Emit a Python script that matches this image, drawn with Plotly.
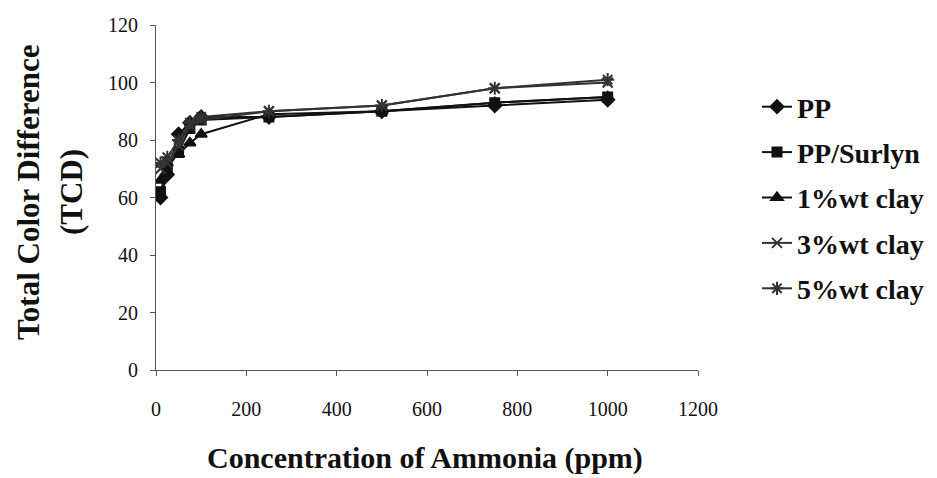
import plotly.graph_objects as go

conc = [10, 25, 50, 75, 100, 250, 500, 750, 1000]
series_names = ["PP", "PP/Surlyn", "1%wt clay", "3%wt clay", "5%wt clay"]
pp = [60, 68, 82, 86, 88, 88, 90, 92, 94]
pp_surlyn = [62, 70, 76, 84, 87, 88, 90, 93, 95]
clay1 = [66, 72, 75, 79, 82, 89, 90, 93, 95]
clay3 = [70, 72, 78, 85, 87, 90, 92, 98, 100]
clay5 = [72, 74, 80, 86, 88, 90, 92, 98, 101]
x_ticks = [0, 200, 400, 600, 800, 1000, 1200]
y_ticks = [0, 20, 40, 60, 80, 100, 120]

values = [pp, pp_surlyn, clay1, clay3, clay5]
symbols = ["diamond", "square", "triangle-up", "x-thin-open", "asterisk-open"]
sizes = [10, 9, 10, 10, 11]
colors = ["#111111", "#111111", "#111111", "#333333", "#333333"]

FONT = "Liberation Serif, Times New Roman, serif"

fig = go.Figure()
for i, (name, vals) in enumerate(zip(series_names, values)):
    fig.add_trace(go.Scatter(
        x=conc, y=vals, name=name, mode="lines+markers",
        legendgroup=f"g{i}",
        line=dict(color=colors[i], width=2),
        marker=dict(symbol=symbols[i], size=sizes[i], color=colors[i],
                    line=dict(color=colors[i], width=2)),
    ))

# page body has an 8px offset; compensate so the plot lands where the reference has it
OFF = 8
W, H = 937 - OFF, 478 - OFF
L, T = 156 - OFF, 25 - OFF
R = 937 - 698          # plot right edge at screen x=698
B = 478 - 370          # plot bottom at screen y=370 (fig y=362)
pw, ph = W - L - R, H - T - B

def px_x(p):
    return (p - OFF - L) / pw

def px_y(p):
    return (H - B - (p - OFF)) / ph

fig.update_layout(
    width=W, height=H,
    margin=dict(l=L, r=R, t=T, b=B, autoexpand=False),
    paper_bgcolor="white", plot_bgcolor="white",
    font=dict(family=FONT, color="#111111"),
    showlegend=True,
    legend=dict(
        x=px_x(757), y=px_y(82), xanchor="left", yanchor="top",
        font=dict(family=FONT, size=28, color="#111111", weight="bold"),
        traceorder="grouped", tracegroupgap=6,
        bgcolor="rgba(0,0,0,0)",
    ),
    xaxis=dict(
        range=[0, 1200], tickvals=x_ticks, ticktext=[str(v) for v in x_ticks],
        showgrid=False, zeroline=False, showline=True, linecolor="#555555",
        linewidth=1, ticks="outside", ticklen=5, tickcolor="#555555",
        tickfont=dict(family=FONT, size=20, color="#111111"),
        ticklabelstandoff=16,
        automargin=False,
    ),
    yaxis=dict(
        range=[0, 120], tickvals=y_ticks, ticktext=[str(v) for v in y_ticks],
        showgrid=False, zeroline=False, showline=True, linecolor="#555555",
        linewidth=1, ticks="outside", ticklen=5, tickcolor="#555555",
        tickfont=dict(family=FONT, size=20, color="#111111"),
        ticklabelstandoff=8,
        automargin=False,
    ),
    annotations=[
        dict(text="Total Color Difference", textangle=-90,
             xref="paper", yref="paper", x=px_x(28), y=px_y(192),
             xanchor="center", yanchor="middle", showarrow=False,
             font=dict(family=FONT, size=31, color="#111111", weight="bold")),
        dict(text="(TCD)", textangle=-90,
             xref="paper", yref="paper", x=px_x(71), y=px_y(192),
             xanchor="center", yanchor="middle", showarrow=False,
             font=dict(family=FONT, size=31, color="#111111", weight="bold")),
        dict(text="Concentration of Ammonia (ppm)",
             xref="paper", yref="paper", x=px_x(425), y=px_y(458),
             xanchor="center", yanchor="middle", showarrow=False,
             font=dict(family=FONT, size=30, color="#111111", weight="bold")),
    ],
)

fig.write_html("out.html")
